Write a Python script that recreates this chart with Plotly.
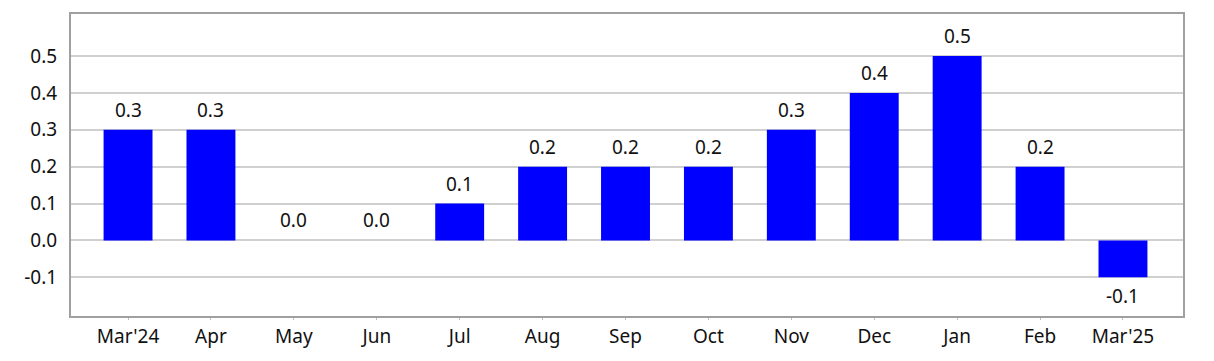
import plotly.graph_objects as go

categories = ["Mar'24", "Apr", "May", "Jun", "Jul", "Aug", "Sep", "Oct", "Nov", "Dec", "Jan", "Feb", "Mar'25"]
values = [0.3, 0.3, 0.0, 0.0, 0.1, 0.2, 0.2, 0.2, 0.3, 0.4, 0.5, 0.2, -0.1]
labels = [f"{v:.1f}" for v in values]
y_ticks = [-0.1, 0.0, 0.1, 0.2, 0.3, 0.4, 0.5]

FONT = "Noto Sans"

fig = go.Figure(go.Bar(
    x=categories, y=values,
    marker=dict(color="#0000FF", line=dict(width=0)),
    width=0.59, hoverinfo="skip",
))

for c, v, t in zip(categories, values, labels):
    fig.add_annotation(
        x=c, y=v, text=t, showarrow=False,
        yanchor="bottom" if v >= 0 else "top",
        yshift=5 if v >= 0 else -4,
        font=dict(family=FONT, size=19, color="#111"),
    )

fig.update_layout(
    width=1214, height=361,
    margin=dict(l=71, r=31, t=14, b=43),
    paper_bgcolor="white", plot_bgcolor="white",
    font=dict(family=FONT, size=19, color="#111"),
    showlegend=False,
)
fig.update_xaxes(
    range=[-0.688, 12.724], showline=True, linecolor="#a0a0a0", linewidth=2, mirror=True,
    ticks="outside", ticklen=2, tickcolor="#bbb", showgrid=False,
)
fig.update_yaxes(
    range=[-0.205, 0.614], tickvals=y_ticks, ticktext=[f"{v:.1f}" for v in y_ticks],
    showline=True, linecolor="#a0a0a0", linewidth=2, mirror=True,
    showgrid=True, gridcolor="#d0d0d0", gridwidth=1.5, zeroline=False,
    ticks="", ticklabelstandoff=8,
)

fig.write_html("out.html", config={"displayModeBar": False},
               post_script="document.body.style.margin='0';")
